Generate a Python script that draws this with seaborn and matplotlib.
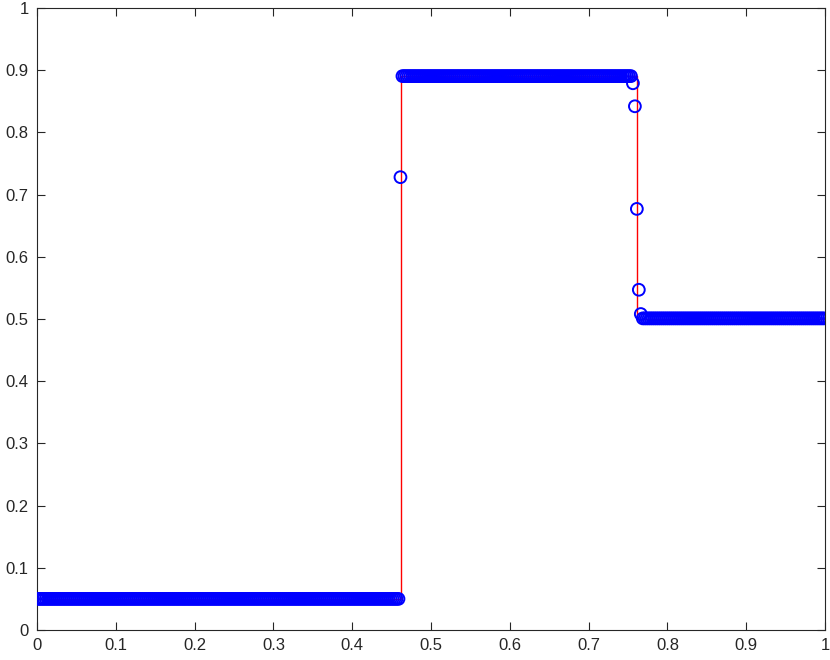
import numpy as np
import pandas as pd
import matplotlib
matplotlib.use('Agg')
import matplotlib.pyplot as plt
import seaborn as sns

# 網格: 400 個單元中心
n_cells = 400
x_cells = (np.arange(n_cells) + 0.5) / n_cells

# 數值解
left_state = 0.05
n_left = 184
left_jump = [0.728]
mid_state = 0.8905
n_mid = 117
right_jump = [0.879, 0.842, 0.677, 0.547, 0.508]
right_state = 0.501
n_right = n_cells - n_left - len(left_jump) - n_mid - len(right_jump)

# 精確解
exact_x = [0.0, 0.4625, 0.4625, 0.7615, 0.7615, 1.0]
exact_y = [0.05, 0.05, 0.8905, 0.8905, 0.5, 0.5]

ticks = np.round(np.arange(0, 1.01, 0.1), 1)
tick_labels = ['0', '0.1', '0.2', '0.3', '0.4', '0.5', '0.6', '0.7', '0.8', '0.9', '1']

u = np.concatenate([
    np.full(n_left, left_state),
    left_jump,
    np.full(n_mid, mid_state),
    right_jump,
    np.full(n_right, right_state),
])
df_num = pd.DataFrame({'x': x_cells, 'u': u})
df_exact = pd.DataFrame({'x': exact_x, 'u': exact_y})

sns.set_style('ticks')
plt.rcParams['font.family'] = ['Liberation Sans', 'DejaVu Sans']

fig = plt.figure(figsize=(8.3, 6.6), dpi=100)
ax = fig.add_axes([37 / 830, 1 - 630 / 660, 788 / 830, 622 / 660])

sns.lineplot(data=df_exact, x='x', y='u', ax=ax, color='#ff0000', linewidth=1.0,
             sort=False, estimator=None)
sns.scatterplot(data=df_num, x='x', y='u', ax=ax, marker='o', s=72,
                facecolor='none', edgecolor='#0000ff', linewidth=1.4, zorder=3)

ax.set_xlim(0, 1)
ax.set_ylim(0, 1)
ax.set_xticks(ticks)
ax.set_xticklabels(tick_labels)
ax.set_yticks(ticks)
ax.set_yticklabels(tick_labels)
ax.set_xlabel('')
ax.set_ylabel('')
for s in ax.spines.values():
    s.set_visible(True)
    s.set_color('#262626')
    s.set_linewidth(0.8)
ax.tick_params(direction='in', length=6, width=0.8, color='#262626',
               top=True, right=True, labelsize=12, labelcolor='#262626', pad=6)

fig.savefig('out.png', dpi=100)
